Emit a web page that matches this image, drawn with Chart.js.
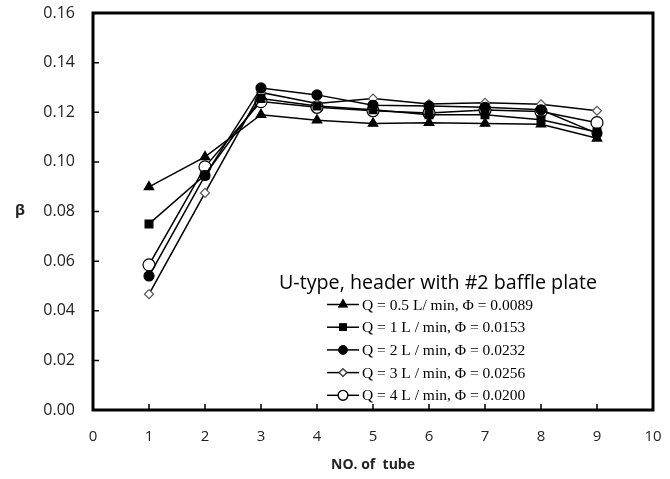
<!DOCTYPE html>
<html>
<head>
<meta charset="utf-8">
<script src="https://cdn.jsdelivr.net/npm/chart.js@4.4.1/dist/chart.umd.min.js"></script>
<style>
  html, body { margin: 0; padding: 0; background: #fff; }
  #wrap { width: 670px; height: 479px; }
</style>
</head>
<body>
<div id="wrap"><canvas id="canvas"></canvas></div>
<script>
// tube numbers and beta values
var tubes = [1, 2, 3, 4, 5, 6, 7, 8, 9];
var q05 = [0.0899, 0.1020, 0.1190, 0.1168, 0.1155, 0.1158, 0.1155, 0.1152, 0.1095];
var q1  = [0.0750, 0.0947, 0.1255, 0.1225, 0.1210, 0.1190, 0.1190, 0.1170, 0.1120];
var q2  = [0.0540, 0.0945, 0.1298, 0.1270, 0.1228, 0.1225, 0.1220, 0.1210, 0.1115];
var q3  = [0.0467, 0.0875, 0.1280, 0.1235, 0.1255, 0.1233, 0.1238, 0.1232, 0.1206];
var q4  = [0.0585, 0.0980, 0.1243, 0.1220, 0.1206, 0.1197, 0.1209, 0.1203, 0.1158];
var labels = [
  'Q = 0.5 L/ min, \u03A6 = 0.0089',
  'Q = 1 L / min, \u03A6 = 0.0153',
  'Q = 2 L / min, \u03A6 = 0.0232',
  'Q = 3 L / min, \u03A6 = 0.0256',
  'Q = 4 L / min, \u03A6 = 0.0200'
];
var xTicks = [0, 1, 2, 3, 4, 5, 6, 7, 8, 9, 10];
var yTicks = [0, 0.02, 0.04, 0.06, 0.08, 0.10, 0.12, 0.14, 0.16];

function pts(vals) {
  return vals.map(function (v, i) { return { x: tubes[i], y: v }; });
}

function makeSet(label, vals, style, radius, fill) {
  return {
    label: label,
    data: pts(vals),
    borderColor: '#000',
    borderWidth: 1.5,
    pointStyle: style,
    pointRadius: radius,
    pointBackgroundColor: fill,
    pointBorderColor: fill == '#fff' ? '#555' : '#000',
    pointBorderWidth: 1.2,
    tension: 0
  };
}

var datasets = [
  makeSet(labels[0], q05, 'triangle', 5.5, '#000'),
  makeSet(labels[1], q1, 'rect', 5.5, '#000'),
  makeSet(labels[2], q2, 'circle', 5, '#000'),
  makeSet(labels[3], q3, 'rectRot', 4.5, '#fff'),
  makeSet(labels[4], q4, 'circle', 6, '#fff')
];
datasets[4].pointBorderColor = '#000';

// inward tick marks, thick frame, the beta label and the legend box inside the plot
var framePlugin = {
  id: 'frame',
  afterDraw: function (chart) {
    var ctx = chart.ctx;
    var a = chart.chartArea;
    var xs = chart.scales.x, ys = chart.scales.y;
    ctx.save();
    ctx.strokeStyle = '#000';
    ctx.lineWidth = 1.5;
    ctx.beginPath();
    xTicks.forEach(function (t) {
      var px = xs.getPixelForValue(t);
      ctx.moveTo(px, a.bottom);
      ctx.lineTo(px, a.bottom - 6);
    });
    yTicks.forEach(function (t) {
      var py = ys.getPixelForValue(t);
      ctx.moveTo(a.left, py);
      ctx.lineTo(a.left + 6, py);
    });
    ctx.stroke();
    ctx.lineWidth = 3;
    ctx.strokeRect(a.left, a.top, a.right - a.left, a.bottom - a.top);

    ctx.fillStyle = '#222';
    ctx.textAlign = 'center';
    ctx.textBaseline = 'middle';
    ctx.font = 'bold 15px "Open Sans"';
    ctx.fillText('\u03B2', 20, 211);

    // legend
    ctx.fillStyle = '#000';
    ctx.textAlign = 'left';
    ctx.font = '19.7px "Open Sans"';
    ctx.fillText('U-type, header with #2 baffle plate', 279, 283);
    ctx.font = '15.5px "Liberation Serif"';
    chart.data.datasets.forEach(function (ds, i) {
      var y = 304.5 + i * 22.7;
      ctx.strokeStyle = '#000';
      ctx.lineWidth = 1.5;
      ctx.beginPath();
      ctx.moveTo(327, y);
      ctx.lineTo(359, y);
      ctx.stroke();
      var r = ds.pointRadius * 0.8;
      Chart.helpers.drawPoint(ctx, {
        pointStyle: ds.pointStyle,
        radius: r,
        borderWidth: 1.2
      }, 343, y);
      ctx.fillStyle = ds.pointBackgroundColor;
      ctx.strokeStyle = ds.pointBorderColor;
      ctx.lineWidth = 1.2;
      ctx.fill();
      ctx.stroke();
      ctx.fillStyle = '#000';
      ctx.fillText(ds.label, 362, y + 1);
    });
    ctx.restore();
  }
};

var ctx = document.getElementById('canvas').getContext('2d');
var chart = new Chart(ctx, {
  type: 'line',
  data: { datasets: datasets },
  options: {
    responsive: true,
    maintainAspectRatio: false,
    animation: false,
    events: [],
    layout: { padding: { top: 13, right: 17, left: 0, bottom: 0 } },
    plugins: { legend: { display: false }, tooltip: { enabled: false } },
    scales: {
      x: {
        type: 'linear',
        min: 0, max: 10,
        afterBuildTicks: function (s) { s.ticks = xTicks.map(function (v) { return { value: v }; }); },
        afterFit: function (s) {
          s.height = 69;
          s.paddingLeft = 0;
          s.paddingRight = 0;
        },
        grid: { display: false, drawTicks: false },
        border: { display: false },
        ticks: { color: '#222', padding: 18, font: { family: 'Open Sans', size: 15 } },
        title: { display: true, text: 'NO. of  tube', color: '#222', padding: { top: 10, bottom: 6 },
                 font: { family: 'Open Sans', size: 14, weight: 'bold' } }
      },
      y: {
        min: 0, max: 0.16,
        afterBuildTicks: function (s) { s.ticks = yTicks.map(function (v) { return { value: v }; }); },
        afterFit: function (s) {
          s.width = 93;
          s.paddingTop = 0;
          s.paddingBottom = 0;
        },
        grid: { display: false, drawTicks: false },
        border: { display: false },
        ticks: { color: '#222', padding: 18, font: { family: 'Open Sans', size: 16 },
                 callback: function (v) { return v.toFixed(2); } }
      }
    }
  },
  plugins: [framePlugin]
});
</script>
</body>
</html>
